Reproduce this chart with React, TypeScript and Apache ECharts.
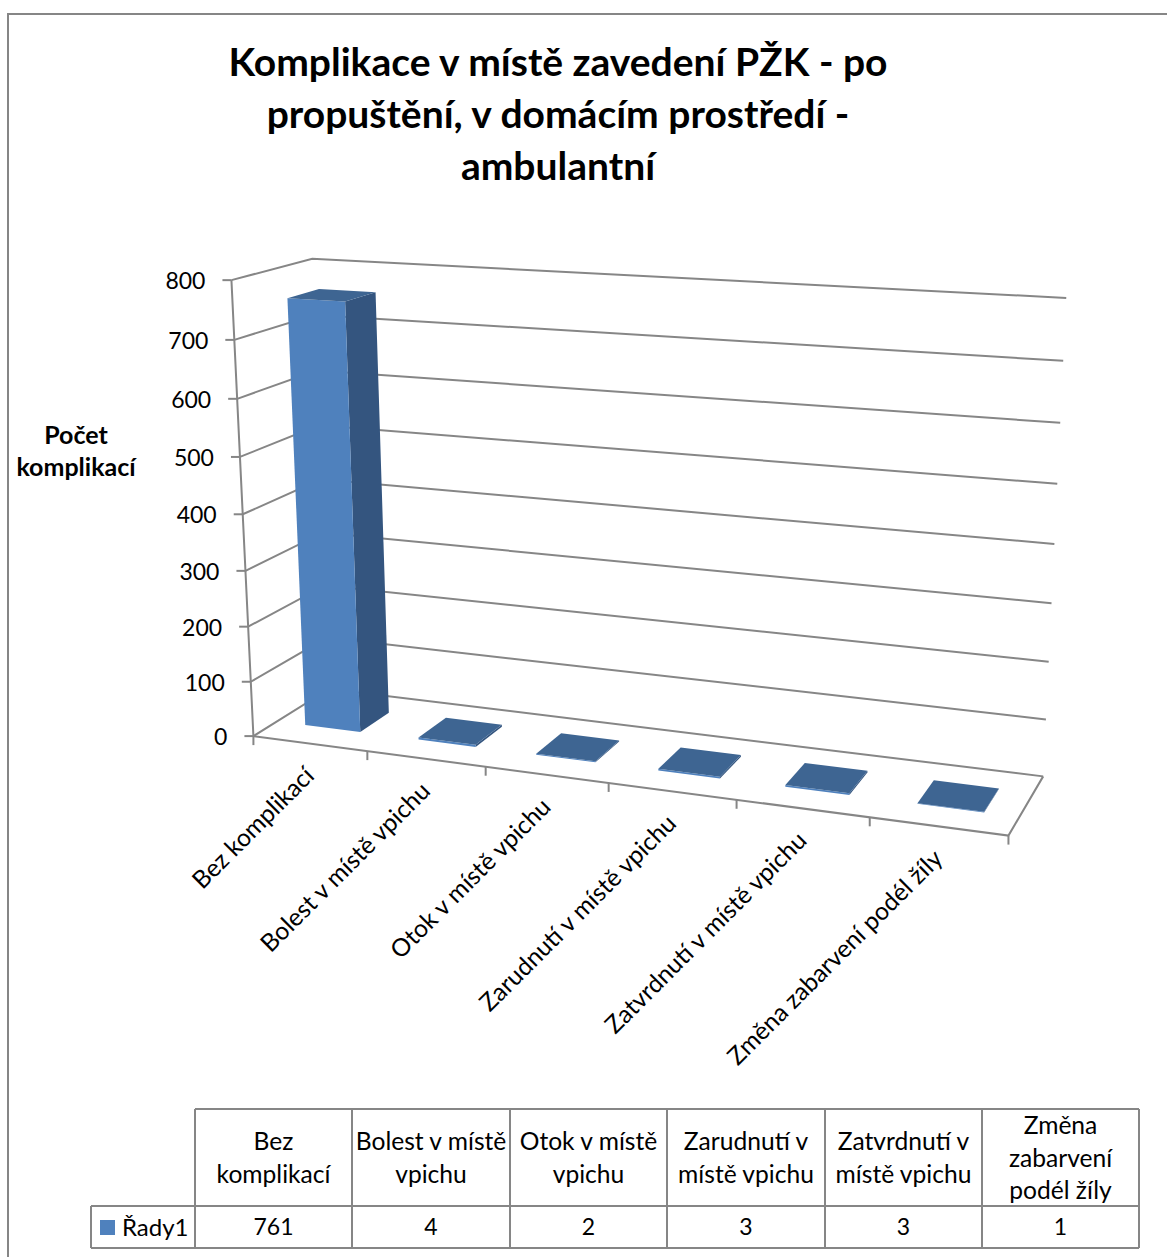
import React, { useEffect, useRef } from "react";
import * as echarts from "echarts";

const chartTitle = "Komplikace v místě zavedení PŽK - po\npropuštění, v domácím prostředí -\nambulantní";
const valueAxisTitle = "Počet\nkomplikací";
const seriesName = "Řady1";
const categories = [
  "Bez komplikací",
  "Bolest v místě vpichu",
  "Otok v místě vpichu",
  "Zarudnutí v místě vpichu",
  "Zatvrdnutí v místě vpichu",
  "Změna zabarvení podél žíly",
];
const tableHeaders = [
  "Bez\nkomplikací",
  "Bolest v místě\nvpichu",
  "Otok v místě\nvpichu",
  "Zarudnutí v\nmístě vpichu",
  "Zatvrdnutí v\nmístě vpichu",
  "Změna\nzabarvení\npodél žíly",
];
const seriesValues = [761, 4, 2, 3, 3, 1];
const valueTicks = [0, 100, 200, 300, 400, 500, 600, 700, 800];

const WIDTH = 1167;
const HEIGHT = 1257;
const FONT = "Lato, Carlito, Calibri, sans-serif";
const LINE = "#868686";
const FRONT = "#4F81BD";
const TOP = "#3E6592";
const SIDE = "#34557F";
const TEXT = "#000000";
const VALUE_MAX = 800;

// Camera for the 3D box: [x in categories, y in value units, z depth 0..1] -> page pixel.
// Solved at start-up by least squares from where the box's edges should fall.
type Anchor = [number, number, number, number, number];
const boxAnchors: Anchor[] = [
  [0, 0, 0, 253.5, 736],
  [1, 0, 0, 367, 751],
  [2, 0, 0, 486, 767],
  [3, 0, 0, 608, 783],
  [4, 0, 0, 737, 800],
  [5, 0, 0, 870, 817.5],
  [6, 0, 0, 1008, 835.5],
  [0, 800, 0, 231.5, 280],
  [0, 400, 0, 243, 514],
  [0, 0, 1, 329, 689],
  [6, 0, 1, 1043, 776],
  [0, 800, 1, 312, 259],
  [6, 800, 1, 1066, 298],
  [6, 400, 1, 1055, 544],
];

function solveCamera(anchors: Anchor[]): number[] {
  const n = 11;
  const A: number[][] = Array.from({ length: n }, () => new Array(n + 1).fill(0));
  const addRow = (row: number[], rhs: number) => {
    for (let i = 0; i < n; i++) {
      for (let j = 0; j < n; j++) A[i][j] += row[i] * row[j];
      A[i][n] += row[i] * rhs;
    }
  };
  for (const [x, y, z, u0, v0] of anchors) {
    const X = x / 6, Y = y / VALUE_MAX, Z = z, u = u0 / 1000, v = v0 / 1000;
    addRow([X, Y, Z, 1, 0, 0, 0, 0, -u * X, -u * Y, -u * Z], u);
    addRow([0, 0, 0, 0, X, Y, Z, 1, -v * X, -v * Y, -v * Z], v);
  }
  for (let c = 0; c < n; c++) {
    let pivot = c;
    for (let r = c + 1; r < n; r++) if (Math.abs(A[r][c]) > Math.abs(A[pivot][c])) pivot = r;
    [A[c], A[pivot]] = [A[pivot], A[c]];
    for (let r = 0; r < n; r++) {
      if (r === c) continue;
      const f = A[r][c] / A[c][c];
      for (let k = c; k <= n; k++) A[r][k] -= f * A[c][k];
    }
  }
  return A.map((row, i) => row[n] / row[i]);
}

const cam = solveCamera(boxAnchors);
function project(x: number, y: number, z: number): [number, number] {
  const X = x / 6, Y = y / VALUE_MAX, Z = z;
  const w = cam[8] * X + cam[9] * Y + cam[10] * Z + 1;
  return [
    (1000 * (cam[0] * X + cam[1] * Y + cam[2] * Z + cam[3])) / w,
    (1000 * (cam[4] * X + cam[5] * Y + cam[6] * Z + cam[7])) / w,
  ];
}

// The hidden cartesian grid fills the page, so its scales give flat positions
// which are then carried through the camera.
const flatX = (px: number) => (px / WIDTH) * categories.length;
const flatY = (py: number) => ((HEIGHT - py) / HEIGHT) * VALUE_MAX;

const BAR_X = 0.255; // share of a category left empty on each side of a bar
const BAR_Z0 = 0.3;
const BAR_Z1 = 0.7;

function renderBar(_: any, api: any) {
  const [cx, py] = api.coord([api.value(0), api.value(1)]);
  const band = api.size([1, 0])[0];
  const x0 = flatX(cx - band / 2) + BAR_X;
  const x1 = flatX(cx + band / 2) - BAR_X;
  const h = flatY(py);
  const face = (pts: number[][], fill: string) => ({
    type: "polygon",
    shape: { points: pts.map(([x, y, z]) => project(x, y, z)) },
    style: { fill },
  });
  return {
    type: "group",
    children: [
      face([[x1, 0, BAR_Z0], [x1, 0, BAR_Z1], [x1, h, BAR_Z1], [x1, h, BAR_Z0]], SIDE),
      face([[x0, 0, BAR_Z0], [x1, 0, BAR_Z0], [x1, h, BAR_Z0], [x0, h, BAR_Z0]], FRONT),
      face([[x0, h, BAR_Z0], [x1, h, BAR_Z0], [x1, h, BAR_Z1], [x0, h, BAR_Z1]], TOP),
    ],
  };
}

function renderGridline(_: any, api: any) {
  const v = flatY(api.coord([0, api.value(0)])[1]);
  const front = project(0, v, 0);
  const backLeft = project(0, v, 1);
  const backRight = project(6, v, 1);
  return {
    type: "group",
    children: [
      {
        type: "polyline",
        shape: { points: [front, backLeft, backRight] },
        style: { stroke: LINE, lineWidth: 2, fill: "none" },
      },
      {
        type: "line",
        shape: { x1: front[0] - 9, y1: front[1], x2: front[0], y2: front[1] },
        style: { stroke: LINE, lineWidth: 2 },
      },
      {
        type: "text",
        x: front[0] - 26,
        y: front[1],
        style: {
          text: String(api.value(0)),
          align: "right",
          verticalAlign: "middle",
          fill: TEXT,
          fontFamily: FONT,
          fontSize: 23,
        },
      },
    ],
  };
}

function renderFloorFrame() {
  const n = categories.length;
  return {
    type: "group",
    children: [
      {
        type: "polyline",
        shape: { points: [project(0, VALUE_MAX, 0), project(0, 0, 0), project(n, 0, 0), project(n, 0, 1)] },
        style: { stroke: LINE, lineWidth: 2, fill: "none" },
      },
    ],
  };
}

function renderCategoryTick(_: any, api: any) {
  const i = api.value(0);
  const [x, y] = project(i, 0, 0);
  const children: any[] = [
    { type: "line", shape: { x1: x, y1: y, x2: x, y2: y + 9 }, style: { stroke: LINE, lineWidth: 2 } },
  ];
  if (i < categories.length) {
    const [lx, ly] = project(i + 0.5, 0, 0);
    children.push({
      type: "text",
      x: lx - 1,
      y: ly + 27,
      rotation: Math.PI / 4,
      style: {
        text: categories[i],
        align: "right",
        verticalAlign: "middle",
        fill: TEXT,
        fontFamily: FONT,
        fontSize: 24.6,
      },
    });
  }
  return { type: "group", children };
}

// Data table under the plot
const COL_X = [195, 352, 510, 667, 825, 982, 1139];
const ROW_Y = [1109, 1206, 1248];
const KEY_LEFT = 91;

function tableGraphics() {
  const stroke = { stroke: LINE, lineWidth: 2 };
  const seg = (x1: number, y1: number, x2: number, y2: number) => ({
    type: "line",
    shape: { x1, y1, x2, y2 },
    style: stroke,
  });
  const cellText = (text: string, x: number, y: number, fontSize = 24.6, align = "center", fontWeight = "normal") => ({
    type: "text",
    x,
    y,
    style: {
      text,
      align,
      verticalAlign: "middle",
      fill: TEXT,
      fontFamily: FONT,
      fontSize,
      fontWeight,
      lineHeight: 32.5,
    },
  });
  const items: any[] = [
    { type: "polyline", shape: { points: [[8, HEIGHT], [8, 14], [WIDTH, 14]] }, style: { stroke: LINE, lineWidth: 2, fill: "none" } },
    seg(COL_X[0], ROW_Y[0], COL_X[6], ROW_Y[0]),
    seg(KEY_LEFT, ROW_Y[1], COL_X[6], ROW_Y[1]),
    seg(KEY_LEFT, ROW_Y[2], COL_X[6], ROW_Y[2]),
    seg(KEY_LEFT, ROW_Y[1], KEY_LEFT, ROW_Y[2]),
    { type: "rect", shape: { x: 100, y: 1220, width: 15, height: 15 }, style: { fill: FRONT } },
    cellText(seriesName, 122, 1226, 24, "left"),
    cellText(valueAxisTitle, 76, 450, 25, "center", "bold"),
  ];
  COL_X.forEach((x) => items.push(seg(x, ROW_Y[0], x, ROW_Y[2])));
  categories.forEach((_, i) => {
    const cx = (COL_X[i] + COL_X[i + 1]) / 2;
    items.push(cellText(tableHeaders[i], cx, 1157));
    items.push(cellText(String(seriesValues[i]), cx, 1226, 23));
  });
  return items;
}

export default function App() {
  const ref = useRef<HTMLDivElement>(null);
  useEffect(() => {
    const chart = echarts.init(ref.current!, undefined, { renderer: "svg" });
    chart.setOption({
      animation: false,
      backgroundColor: "#ffffff",
      title: {
        text: chartTitle,
        left: 553,
        top: 30,
        textAlign: "center",
        textStyle: { fontFamily: FONT, fontWeight: "bold", fontSize: 39, lineHeight: 52, color: TEXT },
      },
      grid: { left: 0, top: 0, width: WIDTH, height: HEIGHT },
      xAxis: { type: "category", data: categories, show: false },
      yAxis: { type: "value", min: 0, max: VALUE_MAX, interval: 100, show: false },
      graphic: tableGraphics(),
      series: [
        { type: "custom", name: "osa", silent: true, clip: false, renderItem: renderGridline, data: valueTicks.map((v) => [v]) },
        { type: "custom", name: "podlaha", silent: true, clip: false, renderItem: renderFloorFrame, data: [[0]] },
        {
          type: "custom",
          name: "značky",
          silent: true,
          clip: false,
          renderItem: renderCategoryTick,
          data: [...categories.map((_, i) => [i]), [categories.length]],
        },
        {
          type: "custom",
          name: seriesName,
          silent: true,
          clip: false,
          renderItem: renderBar,
          data: seriesValues.map((v, i) => [i, v]),
        },
      ],
    });
    return () => chart.dispose();
  }, []);
  return <div ref={ref} style={{ position: "absolute", left: 0, top: 0, width: WIDTH, height: HEIGHT }} />;
}
